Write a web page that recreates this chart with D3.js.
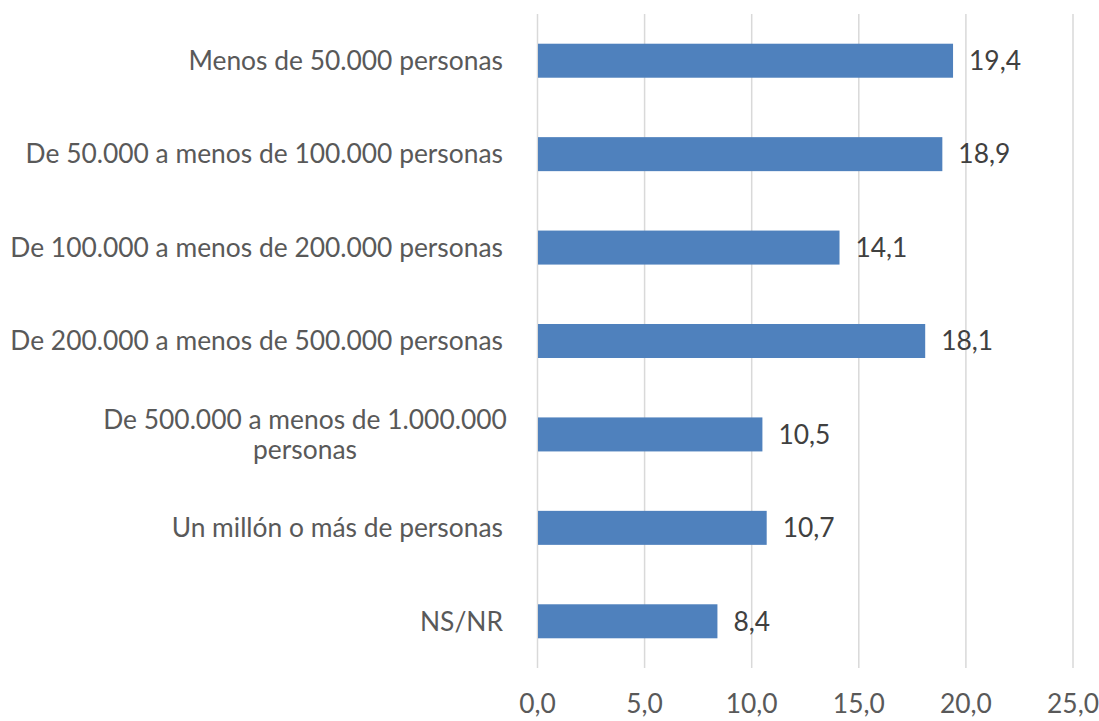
<html>
<head>
<meta charset="utf-8">
<style>
    body { margin: 0; background: white; }
    svg { display: block; }
    text { font-family: Lato, "Open Sans", sans-serif; }
</style>
<script src="https://d3js.org/d3.v7.min.js"></script>
</head>
<body>
<svg id="chart"></svg>
<script>
    // chart data
    let categories = [
        "Menos de 50.000 personas",
        "De 50.000 a menos de 100.000 personas",
        "De 100.000 a menos de 200.000 personas",
        "De 200.000 a menos de 500.000 personas",
        "De 500.000 a menos de 1.000.000|personas",
        "Un millón o más de personas",
        "NS/NR"
    ]
    let values = [19.4, 18.9, 14.1, 18.1, 10.5, 10.7, 8.4]
    let tickValues = [0, 5, 10, 15, 20, 25]

    let width = 1099, height = 721
    let margin = { top: 14, left: 537.5, right: 26, bottom: 53 }
    let svg = d3.select('#chart').attr('width', width).attr('height', height)

    let x = d3.scaleLinear().domain([0, 25]).range([margin.left, width - margin.right])
    let y = d3.scaleBand().domain(categories).range([margin.top, height - margin.bottom]).paddingInner(0.636).paddingOuter(0.318)

    let fmt = v => d3.format('.1f')(v).replace('.', ',')

    // pick a font size so the longest label is as wide as in the original
    let probe = svg.append('text').attr('font-size', 100).text(categories[2])
    let fontSize = 100 * 493 / probe.node().getComputedTextLength()
    probe.remove()

    // gridlines
    svg.append('g').selectAll('line').data(tickValues).enter().append('line')
        .attr('x1', d => x(d)).attr('x2', d => x(d))
        .attr('y1', margin.top).attr('y2', height - margin.bottom)
        .attr('stroke', '#d9d9d9').attr('stroke-width', 1.5)

    // bars
    svg.append('g').selectAll('rect').data(values).enter().append('rect')
        .attr('x', x(0) + 0.5)
        .attr('y', (d, i) => y(categories[i]))
        .attr('width', d => x(d) - x(0) - 0.5)
        .attr('height', y.bandwidth())
        .attr('fill', '#4f81bd')

    // value labels
    svg.append('g').selectAll('text').data(values).enter().append('text')
        .attr('x', d => x(d) + 16)
        .attr('y', (d, i) => y(categories[i]) + y.bandwidth() / 2)
        .attr('dy', '0.35em')
        .attr('font-size', fontSize)
        .attr('fill', '#404040')
        .text(d => fmt(d))

    // category labels
    let cat = svg.append('g').selectAll('text').data(categories).enter().append('text')
        .attr('font-size', fontSize)
        .attr('fill', '#595959')
        .attr('text-anchor', 'middle')
        .attr('y', d => y(d) + y.bandwidth() / 2)

    cat.each(function(d) {
        let lines = d.split('|')
        let t = d3.select(this)
        let lh = 30
        if (lines.length === 1) {
            t.attr('text-anchor', 'end').attr('x', 503).attr('dy', '0.35em').text(d)
        } else {
            t.attr('x', 305)
            lines.forEach((l, i) => {
                t.append('tspan').attr('x', 305)
                    .attr('dy', i === 0 ? (0.35 * fontSize - lh / 2) : lh)
                    .text(l)
            })
        }
    })

    // x axis tick labels
    svg.append('g').selectAll('text').data(tickValues).enter().append('text')
        .attr('x', d => x(d))
        .attr('y', 704)
        .attr('dy', '0.35em')
        .attr('text-anchor', 'middle')
        .attr('font-size', fontSize)
        .attr('fill', '#595959')
        .text(d => fmt(d))
</script>
</body>
</html>
